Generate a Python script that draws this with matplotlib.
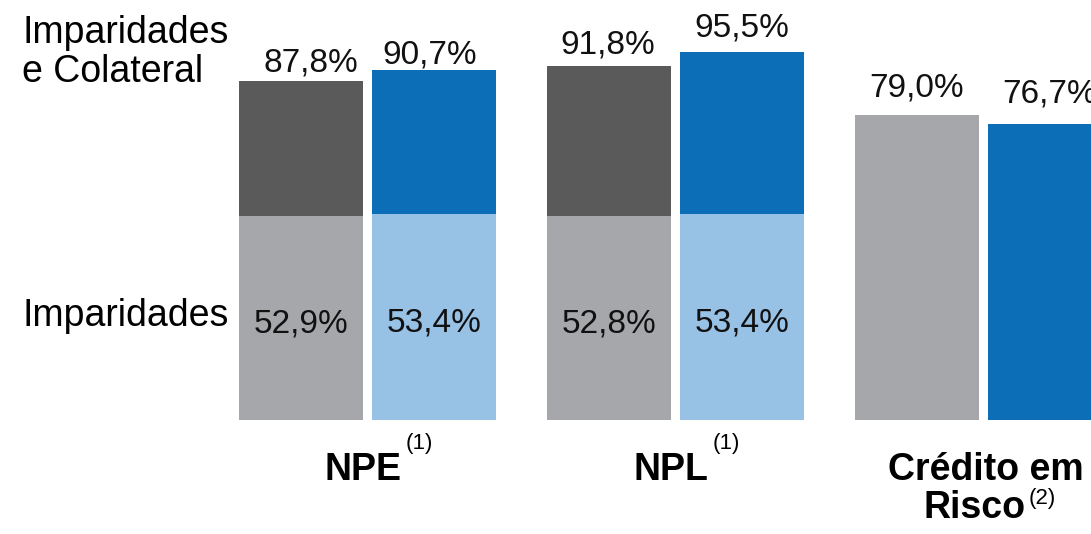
import matplotlib.pyplot as plt

plt.rcParams["font.family"] = ["Liberation Sans", "DejaVu Sans"]

# ================= DATA =================
groups = ["NPE", "NPL", "Crédito em\nRisco"]
group_notes = ["(1)", "(1)", "(2)"]
imparidades = [52.9, 53.4, 52.8, 53.4]          # bottom segments, NPE/NPL bars
totals = [87.8, 90.7, 91.8, 95.5]               # imparidades + colateral
credito_risco = [79.0, 76.7]
# ========================================

DARK_GREY = "#5a5a5a"
BLUE = "#0b6eb6"
LIGHT_GREY = "#a6a7aa"
LIGHT_BLUE = "#98c1e6"
TXT = "#111111"

W, H = 1091, 534
fig = plt.figure(figsize=(W / 100, H / 100), dpi=100)
ax = fig.add_axes([0, 0, 1, 1])
ax.axis("off")

unit = 123.2          # px per x unit
px_per_pct = 3.857    # px per percentage point
base_px = 114         # baseline from bottom
g0_px = 367.5
ax.set_xlim(-g0_px / unit, (W - g0_px) / unit)
ax.set_ylim(-base_px / px_per_pct, (H - base_px) / px_per_pct)

group_x = [0, 2.5, 5.0]
off = 0.54
bw = 1.0

# label placement tweaks (px): gap above bar top, horizontal shift
top_gap_px = [10, 7, 12, 15]
top_dx_px = [10, -4, -1, 0]
cr_gap_px = [19, 22]
note_offsets = [(3, 14), (3, 14), (2, 1)]   # points, relative to label bbox corner


def fmt(v):
    return f"{v:.1f}%".replace(".", ",")


# NPE / NPL stacked bars
xs = []
for g in range(2):
    xs += [group_x[g] - off, group_x[g] + off]
bottom_cols = [LIGHT_GREY, LIGHT_BLUE, LIGHT_GREY, LIGHT_BLUE]
top_cols = [DARK_GREY, BLUE, DARK_GREY, BLUE]
for i, x in enumerate(xs):
    ax.bar(x, imparidades[i], width=bw, color=bottom_cols[i], linewidth=0)
    ax.bar(x, totals[i] - imparidades[i], bottom=imparidades[i], width=bw,
           color=top_cols[i], linewidth=0)
    ax.text(x + top_dx_px[i] / unit, totals[i] + top_gap_px[i] / px_per_pct,
            fmt(totals[i]), ha="center", va="baseline", fontsize=24, color=TXT)
    ax.text(x, imparidades[i] / 2 - 3.7, fmt(imparidades[i]),
            ha="center", va="baseline", fontsize=24, color=TXT)

# Crédito em Risco bars
cr_x = [group_x[2] - off, group_x[2] + off]
for x, v, c, gap in zip(cr_x, credito_risco, [LIGHT_GREY, BLUE], cr_gap_px):
    ax.bar(x, v, width=bw, color=c, linewidth=0)
    ax.text(x, v + gap / px_per_pct, fmt(v),
            ha="center", va="baseline", fontsize=24, color=TXT)

# category labels with superscript notes
for g, (name, note) in enumerate(zip(groups, group_notes)):
    if "\n" in name:
        first, second = name.split("\n")
        ax.text(group_x[g] + 0.02, -13.0, first, ha="center", va="center",
                fontsize=27, fontweight="bold")
        t = ax.text(group_x[g] - 0.07, -22.7, second, ha="center", va="center",
                    fontsize=27, fontweight="bold")
    else:
        t = ax.text(group_x[g] - 0.04, -13.0, name, ha="center", va="center",
                    fontsize=27, fontweight="bold")
    ax.annotate(note, xy=(1, 1), xycoords=t, xytext=note_offsets[g],
                textcoords="offset points", ha="left", va="top", fontsize=16)

# left side labels
fig.text(22 / W, 1 - 43 / H, "Imparidades", ha="left", va="baseline", fontsize=27)
fig.text(22 / W, 1 - 82 / H, "e Colateral", ha="left", va="baseline", fontsize=27)
fig.text(22 / W, 1 - 326 / H, "Imparidades", ha="left", va="baseline", fontsize=27)

fig.savefig("out.png", dpi=100)
